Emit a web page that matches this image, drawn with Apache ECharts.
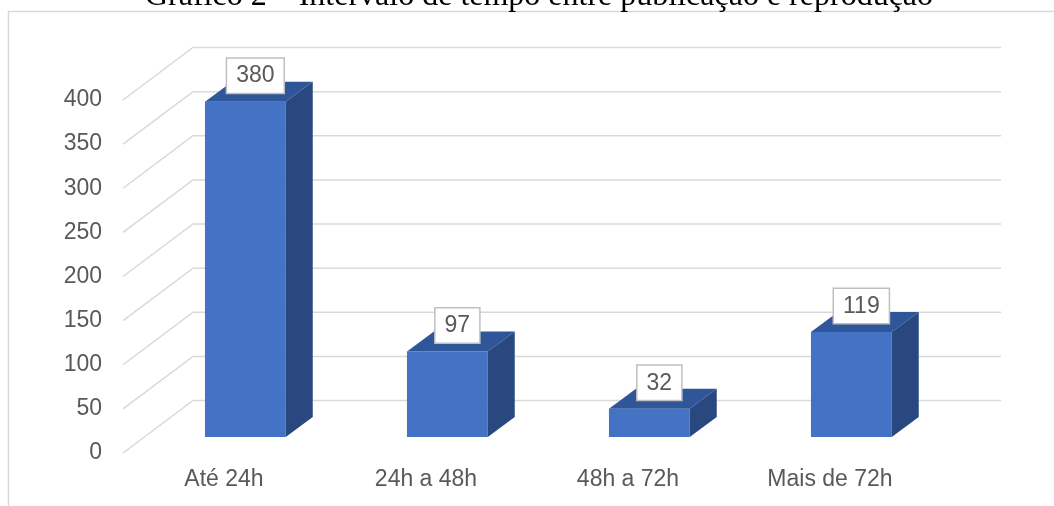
<!DOCTYPE html>
<html>
<head>
<meta charset="utf-8">
<script src="https://cdn.jsdelivr.net/npm/echarts@6/dist/echarts.min.js"></script>
<style>
  html, body { margin: 0; padding: 0; background: #fff; }
  #main { width: 1054px; height: 506px; }
</style>
</head>
<body>
<div id="main"></div>
<script>
// dados do gráfico
var categorias = ['Até 24h', '24h a 48h', '48h a 72h', 'Mais de 72h'];
var valores = [380, 97, 32, 119];
var ticksY = [0, 50, 100, 150, 200, 250, 300, 350, 400];

// profundidade da "caixa" 3D (parede do fundo)
var DX = 70, DY = 52.5;
var F0 = 0.305;            // onde a barra começa na profundidade
var BDX = 27, BDY = 20;    // espessura da barra

var chart = echarts.init(document.getElementById('main'));

var option = {
  backgroundColor: '#fff',
  animation: false,
  graphic: [
    {
      type: 'rect', silent: true, z: -10,
      shape: { x: 8.5, y: 11.5, width: 1200, height: 700 },
      style: { fill: 'none', stroke: '#d9d9d9', lineWidth: 1.5 }
    },
    {
      type: 'text', silent: true,
      x: 539, y: -19,
      style: {
        text: 'Gráfico 2 – Intervalo de tempo entre publicação e reprodução',
        align: 'center', verticalAlign: 'top',
        font: '32px "Liberation Serif"', fill: '#000'
      }
    }
  ],
  grid: { left: 123, right: 123, top: 100, bottom: 53 },
  xAxis: {
    type: 'category',
    data: categorias,
    axisLine: { show: false },
    axisTick: { show: false },
    axisLabel: { color: '#595959', fontSize: 23, fontFamily: 'Liberation Sans', margin: 15 }
  },
  yAxis: {
    type: 'value',
    min: 0, max: 400, interval: 50,
    axisLine: { show: false },
    axisTick: { show: false },
    splitLine: { show: false },
    axisLabel: { color: '#595959', fontSize: 23, fontFamily: 'Liberation Sans', margin: 21 }
  },
  series: [
    {
      // linhas de grade: diagonal + parede do fundo
      type: 'custom',
      silent: true,
      z: 1,
      data: ticksY.map(function (v) { return [0, v]; }),
      encode: { x: 0, y: 1 },
      renderItem: function (params, api) {
        var y = api.coord([0, api.value(1)])[1];
        var cs = params.coordSys;
        return {
          type: 'polyline',
          shape: { points: [[cs.x, y], [cs.x + DX, y - DY], [cs.x + cs.width + DX, y - DY]] },
          style: { stroke: '#d9d9d9', lineWidth: 1.5, fill: null }
        };
      }
    },
    {
      type: 'custom',
      z: 2,
      data: valores.map(function (v, i) { return [i, v]; }),
      encode: { x: 0, y: 1 },
      renderItem: function (params, api) {
        var i = api.value(0);
        var base = api.coord([i, 0]);
        var top = api.coord([i, api.value(1)]);
        var bw = api.size([1, 0])[0] * 0.4;
        var cx = base[0] + F0 * DX;
        var fx = cx - bw / 2;
        var by = base[1] - F0 * DY;
        var ty = top[1] - F0 * DY;
        return {
          type: 'group',
          children: [
            {
              type: 'rect',
              shape: { x: fx, y: ty, width: bw, height: by - ty },
              style: { fill: '#4472C4' }
            },
            {
              type: 'polygon',
              shape: { points: [[fx, ty], [fx + BDX, ty - BDY], [fx + bw + BDX, ty - BDY], [fx + bw, ty]] },
              style: { fill: '#30569A' }
            },
            {
              type: 'polygon',
              shape: { points: [[fx + bw, ty], [fx + bw + BDX, ty - BDY], [fx + bw + BDX, by - BDY], [fx + bw, by]] },
              style: { fill: '#2A4880' }
            },
            {
              type: 'text',
              x: cx + 10, y: ty - 9,
              style: {
                text: String(api.value(1)),
                align: 'center', verticalAlign: 'bottom',
                font: '23px "Liberation Sans"', fill: '#595959',
                backgroundColor: '#fff', borderColor: '#bfbfbf', borderWidth: 1.5,
                padding: [6, 9, 5, 9]
              }
            }
          ]
        };
      }
    }
  ]
};

chart.setOption(option);
</script>
</body>
</html>
